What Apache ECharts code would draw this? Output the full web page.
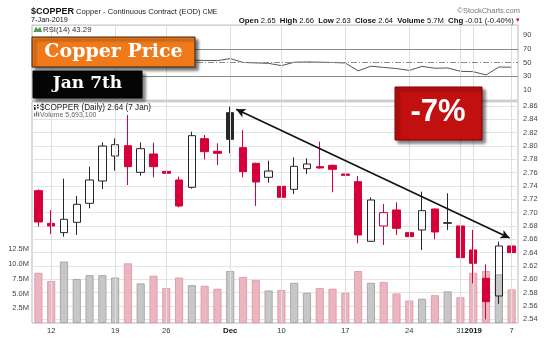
<!DOCTYPE html>
<html>
<head>
<meta charset="utf-8">
<script src="https://cdn.jsdelivr.net/npm/echarts@6/dist/echarts.min.js"></script>
<style>
html,body{margin:0;padding:0;background:#fff}
#c{width:560px;height:337px}
</style>
</head>
<body>
<div id="c"></div>
<script>
// Copper continuous contract, daily bars 9 Nov 2018 – 7 Jan 2019
const dates = ['2018-11-09','2018-11-12','2018-11-13','2018-11-14','2018-11-15','2018-11-16','2018-11-19','2018-11-20','2018-11-21','2018-11-23',
  '2018-11-26','2018-11-27','2018-11-28','2018-11-29','2018-11-30','2018-12-03','2018-12-04','2018-12-06','2018-12-07','2018-12-10',
  '2018-12-11','2018-12-12','2018-12-13','2018-12-14','2018-12-17','2018-12-18','2018-12-19','2018-12-20','2018-12-21','2018-12-24',
  '2018-12-26','2018-12-27','2018-12-28','2018-12-31','2019-01-02','2019-01-03','2019-01-04','2019-01-07'];
const opens  = [2.733,2.684,2.670,2.6855,2.714,2.7475,2.785,2.8005,2.7605,2.788,2.762,2.749,2.738,2.811,2.792,2.850,2.7975,2.774,2.753,2.7395,
  2.735,2.766,2.769,2.771,2.758,2.7465,2.657,2.680,2.704,2.670,2.674,2.7055,2.684,2.680,2.644,2.6015,2.575,2.65];
const highs  = [2.735,2.704,2.751,2.725,2.769,2.8055,2.8115,2.8465,2.8055,2.805,2.783,2.754,2.8215,2.8165,2.804,2.859,2.824,2.775,2.778,2.758,
  2.783,2.7815,2.8065,2.772,2.763,2.755,2.723,2.713,2.7155,2.684,2.7315,2.706,2.729,2.7075,2.674,2.6225,2.6565,2.66];
const lows   = [2.679,2.668,2.664,2.6665,2.7065,2.7355,2.763,2.7415,2.7555,2.753,2.739,2.708,2.736,2.780,2.7715,2.789,2.753,2.710,2.745,2.718,
  2.728,2.758,2.766,2.7305,2.723,2.654,2.656,2.6515,2.6665,2.6515,2.644,2.660,2.674,2.6265,2.594,2.540,2.563,2.63];
const closes = [2.686,2.680,2.690,2.7125,2.749,2.800,2.802,2.769,2.796,2.769,2.759,2.710,2.8155,2.7915,2.789,2.810,2.7615,2.746,2.7625,2.723,
  2.7695,2.773,2.767,2.765,2.756,2.6665,2.719,2.700,2.6765,2.664,2.703,2.671,2.685,2.6325,2.624,2.5665,2.650,2.64];
const priorClose = 2.705;
const volumes = [8500000,7100000,10400000,7450000,8100000,8100000,7700000,10100000,6700000,8000000,5900000,7700000,6400000,6300000,5800000,
  8800000,7800000,7300000,5500000,5600000,6800000,5100000,5900000,5800000,5100000,8800000,6800000,6950000,5000000,3800000,
  4100000,4700000,5350000,4350000,8500000,8800000,8250000,5693100];
const rsi = [46,45,47,49,53,58,58,53,56,53,52,47,53.5,53.3,53.0,55.9,50.3,49.6,49.0,45.6,
  50.6,51.0,50.7,50.3,49.5,38.0,44.8,43.0,41.3,38.6,44.6,41.8,42.2,37.4,36.8,32.0,43.6,43.29];

// axis tick dates and their labels
const tickDates = ['2018-11-12','2018-11-19','2018-11-26','2018-12-03','2018-12-10','2018-12-17','2018-12-24','2018-12-31','2019-01-02','2019-01-07'];
const tickTexts = ['12','19','26','Dec','10','17','24','31','2019','7'];
const boldTicks = ['Dec','2019'];
const priceTicks = [2.54, 2.86, 0.02];
const rsiLabels = [10,30,50,70,90];
const rsiBands = [30,70];
const volLabelMax = 12500000;

// trend annotation: Dec 3 high to Jan 7
const trendFrom = ['2018-12-03', 2.855];
const trendTo = ['2019-01-07', 2.662];

const RED = '#d6003a', DARK = '#262626';
const FONT = '"Liberation Sans", Arial, sans-serif';
const GRID_L = 32, GRID_R = 42;
const last = dates.length - 1;

const isUp = closes.map((c, i) => c >= (i ? closes[i - 1] : priorClose));
const candleData = dates.map((d, i) => {
  const col = isUp[i] ? DARK : RED;
  const fill = closes[i] < opens[i] ? col : 'rgba(255,255,255,0)';
  return {value: [opens[i], closes[i], lows[i], highs[i]],
    itemStyle: {color: fill, color0: fill, borderColor: col, borderColor0: col, borderWidth: 1}};
});
const volData = volumes.map((v, i) => ({value: v, itemStyle: isUp[i]
  ? {color: '#c7c7c7', borderColor: '#9c9c9c', borderWidth: 0.8}
  : {color: '#ebb6c0', borderColor: '#d9939f', borderWidth: 0.8}}));

const vLine = {color: '#dedede', width: 1, type: 'solid'};
const vLines = tickDates.map(d => ({xAxis: d, lineStyle: vLine}));
const tagLabel = (txt) => ({show: true, position: 'end', distance: 1, formatter: txt, fontSize: 7.5, fontFamily: FONT,
  color: '#111', backgroundColor: '#fff', borderColor: '#333', borderWidth: 0.8, borderRadius: [4, 0, 0, 4], padding: [1, 1, 0, 2]});
const hidden = {opacity: 0};

const hiddenX = (g) => ({type: 'category', gridIndex: g, data: dates, boundaryGap: true,
  axisLine: {show: false}, axisTick: {show: false}, axisLabel: {show: false}, splitLine: {show: false}});

const option = {
  animation: false,
  textStyle: {fontFamily: FONT},
  grid: [
    {left: GRID_L, right: GRID_R, top: 25.1, height: 75.1, show: true, borderColor: '#b8b8b8', borderWidth: 1},
    {left: GRID_L, right: GRID_R, top: 106, height: 213.3},
    {left: GRID_L, right: GRID_R, top: 101.75, height: 221.25, show: true, borderColor: '#b8b8b8', borderWidth: 1}
  ],
  xAxis: [hiddenX(0), hiddenX(1), {
    type: 'category', gridIndex: 2, data: dates, boundaryGap: true,
    axisLine: {show: false}, axisTick: {show: false}, splitLine: {show: false},
    axisLabel: {
      interval: (i) => tickDates.includes(dates[i]),
      formatter: (v) => { const t = tickTexts[tickDates.indexOf(v)]; return boldTicks.includes(t) ? '{b|' + t + '}' : t; },
      fontSize: 7.5, color: '#333', margin: 4,
      rich: {b: {fontWeight: 'bold', fontSize: 7.8, color: '#111'}}
    }
  }],
  yAxis: [
    {type: 'value', gridIndex: 0, position: 'right', min: -5, max: 105, interval: 5,
      axisLine: {show: false}, axisTick: {show: false}, splitLine: {show: false},
      axisLabel: {fontSize: 7.5, color: '#444', margin: 5, formatter: v => rsiLabels.includes(v) ? String(v) : ''}},
    {type: 'value', gridIndex: 1, position: 'right', min: priceTicks[0], max: priceTicks[1], interval: priceTicks[2],
      axisLine: {show: false}, axisTick: {show: false},
      splitLine: {lineStyle: {color: '#e4e4e4', width: 1}},
      axisLabel: {fontSize: 7.5, color: '#444', margin: 5, formatter: v => v.toFixed(2)}},
    {type: 'value', gridIndex: 2, position: 'left', min: 0, max: 37500000, interval: 2500000,
      axisLine: {show: false}, axisTick: {show: false}, splitLine: {show: false},
      axisLabel: {fontSize: 7.5, color: '#444', margin: 3,
        formatter: v => (v > 0 && v <= volLabelMax) ? (v / 1e6).toFixed(1) + 'M' : ''}}
  ],
  series: [
    {id: 'rsi', type: 'line', xAxisIndex: 0, yAxisIndex: 0, data: rsi, showSymbol: false, z: 3,
      lineStyle: {color: '#555', width: 1},
      markLine: {silent: true, symbol: ['none', 'none'], label: {show: false},
        data: vLines.concat(rsiBands.map(v => ({yAxis: v, lineStyle: {color: '#8c8c8c', width: 1, type: 'solid'}})),
          [{yAxis: 50, lineStyle: {color: '#8c8c8c', width: 1, type: [6, 2, 1, 2]}},
           {yAxis: rsi[last], lineStyle: hidden, label: tagLabel(rsi[last].toFixed(2))}])}},
    {id: 'vol', type: 'bar', xAxisIndex: 2, yAxisIndex: 2, data: volData, barWidth: 8, z: 2,
      markLine: {silent: true, symbol: ['none', 'none'], label: {show: false},
        data: vLines.concat([{yAxis: volumes[last], lineStyle: hidden, label: tagLabel(String(volumes[last]))}])}},
    {id: 'candles', type: 'candlestick', xAxisIndex: 1, yAxisIndex: 1, data: candleData, barWidth: 8, z: 4}
  ],
  graphic: []
};

const chart = echarts.init(document.getElementById('c'), null, {renderer: 'canvas'});
chart.setOption(option);

// trend arrow, positioned from its data values
const p0 = chart.convertToPixel({xAxisIndex: 1, yAxisIndex: 1}, [dates.indexOf(trendFrom[0]), trendFrom[1]]);
const p1 = chart.convertToPixel({xAxisIndex: 1, yAxisIndex: 1}, [dates.indexOf(trendTo[0]), trendTo[1]]);

const txt = (x, y, text, extra) => ({type: 'text', x, y, z: 50, silent: true,
  style: Object.assign({text, fill: '#111', font: '7.5px ' + FONT, verticalAlign: 'middle'}, extra || {})});

chart.setOption({
  series: [{id: 'candles', markLine: {silent: true, symbol: ['arrow', 'arrow'], symbolSize: [7, 9],
    label: {show: false}, lineStyle: {color: '#111', width: 1.6, type: 'solid'},
    data: [
      [{x: p0[0] + 6, y: p0[1]}, {x: p1[0] - 2, y: p1[1]}],
      [{yAxis: closes[last], symbol: 'none', lineStyle: hidden, label: tagLabel(closes[last].toFixed(2))},
       {xAxis: dates[last], yAxis: closes[last], symbol: 'none'}]
    ]}}],
  graphic: [
    // header
    txt(31, 12, '{a|$COPPER} {b|Copper - Continuous Contract (EOD)} {c|CME}', {rich: {
      a: {font: 'bold 9px ' + FONT, fill: '#111'}, b: {font: '7.6px ' + FONT, fill: '#222'}, c: {font: '6.5px ' + FONT, fill: '#222'}}}),
    txt(31, 20.3, '7-Jan-2019', {font: '7.3px ' + FONT}),
    txt(520, 11, '\u00a9StockCharts.com', {font: '7.5px ' + FONT, fill: '#777', align: 'right'}),
    txt(520, 20.5, '{k|Open} ' + opens[last].toFixed(2) + '  {k|High} ' + highs[last].toFixed(2) + '  {k|Low} ' + lows[last].toFixed(2) +
      '  {k|Close} ' + closes[last].toFixed(2) + '  {k|Volume} ' + (volumes[last] / 1e6).toFixed(1) + 'M  {k|Chg} -0.01 (-0.40%) {r|\u25be}',
      {align: 'right', font: '7.6px ' + FONT, rich: {k: {font: 'bold 7.8px ' + FONT, fill: '#111'}, r: {font: '7px ' + FONT, fill: '#d6003a'}}}),
    // panel captions
    {type: 'polyline', z: 50, silent: true, shape: {points: [[34, 32], [36, 27.5], [38, 30], [40, 27.5], [41.5, 32]]},
      style: {stroke: '#3a7d3a', fill: '#5aa05a', lineWidth: 0.8}},
    txt(43, 29.8, 'RSI(14) ' + rsi[last].toFixed(2), {font: '7.8px ' + FONT, fill: '#333'}),
    {type: 'group', z: 50, silent: true, children: [
      {type: 'rect', shape: {x: 34, y: 105, width: 1.6, height: 5}, style: {fill: '#222'}},
      {type: 'rect', shape: {x: 37, y: 104.5, width: 1.6, height: 4}, style: {fill: '#222'}}]},
    txt(40, 108, '$COPPER (Daily) ' + closes[last].toFixed(2) + ' (7 Jan)', {font: '8.2px ' + FONT, fill: '#222'}),
    {type: 'group', z: 50, silent: true, children: [
      {type: 'rect', shape: {x: 34, y: 113, width: 1.2, height: 3.5}, style: {fill: '#777'}},
      {type: 'rect', shape: {x: 36, y: 111.5, width: 1.2, height: 5}, style: {fill: '#777'}},
      {type: 'rect', shape: {x: 38, y: 112.5, width: 1.2, height: 4}, style: {fill: '#777'}}]},
    txt(40, 114.6, 'Volume ' + volumes[last].toLocaleString('en-US'), {font: '7px ' + FONT, fill: '#666'}),
    // title boxes
    {type: 'rect', z: 60, silent: true, shape: {x: 32, y: 37, width: 163, height: 30},
      style: {fill: '#f07a1a', stroke: '#3a2410', lineWidth: 1, shadowBlur: 3, shadowOffsetX: 3, shadowOffsetY: 3, shadowColor: 'rgba(0,0,0,0.55)'}},
    txt(113.5, 52, 'Copper Price', {z: 61, align: 'center', font: 'bold 19px "DejaVu Serif", serif', fill: '#fff'}),
    {type: 'rect', z: 60, silent: true, shape: {x: 33, y: 71, width: 109, height: 27},
      style: {fill: '#050505', stroke: '#000', lineWidth: 1, shadowBlur: 3, shadowOffsetX: 3, shadowOffsetY: 3, shadowColor: 'rgba(0,0,0,0.5)'}},
    txt(87.5, 84, 'Jan 7th', {align: 'center', font: 'bold 17px "DejaVu Serif", serif', fill: '#fff'}),
    {type: 'rect', z: 60, silent: true, shape: {x: 395, y: 87, width: 87, height: 53},
      style: {fill: '#c20f0f', stroke: '#7a0000', lineWidth: 1, shadowBlur: 3, shadowOffsetX: 3, shadowOffsetY: 3, shadowColor: 'rgba(0,0,0,0.5)'}},
    txt(438, 112.5, '-7%', {align: 'center', font: 'bold 31px ' + FONT, fill: '#fff'})
  ].map(g => { if (g.type === 'text') g.z = 62; return g; })
});
</script>
</body>
</html>
